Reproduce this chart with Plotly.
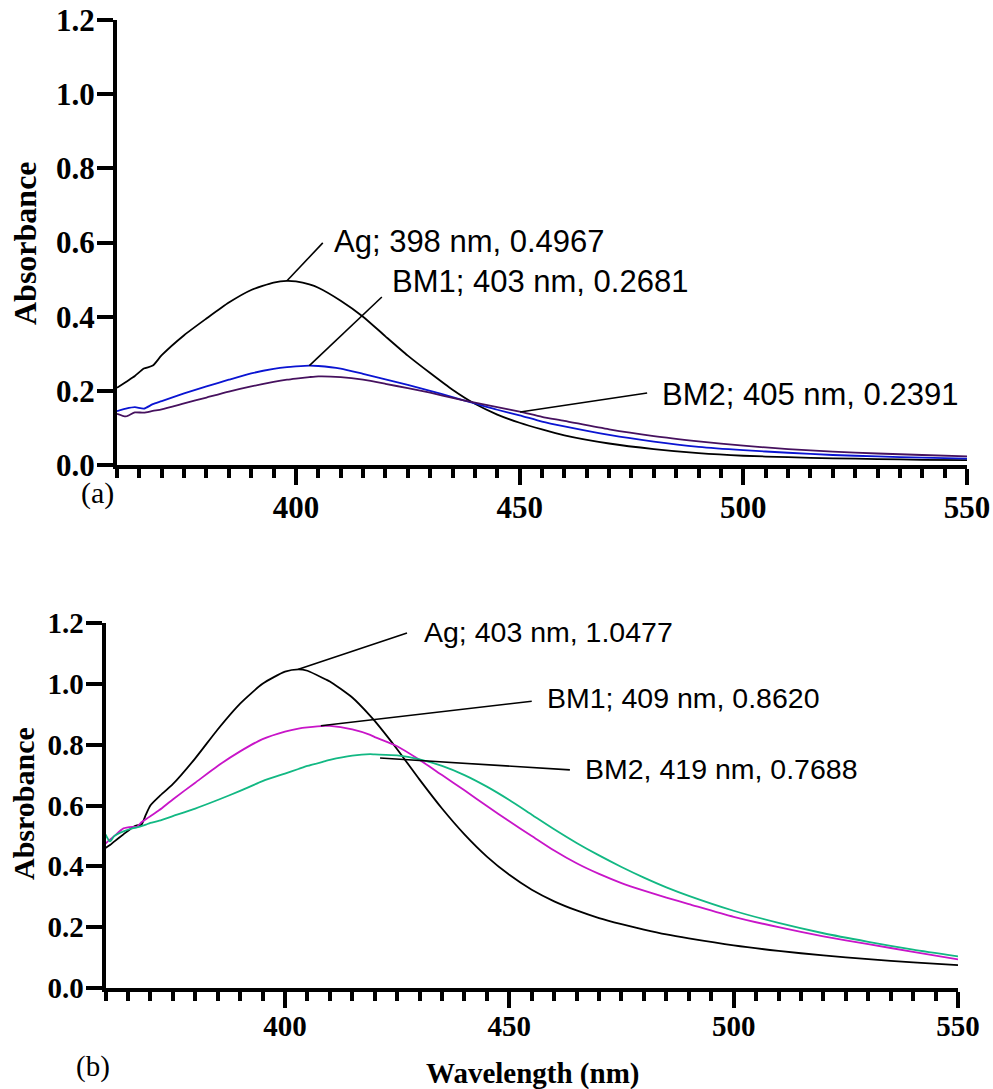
import plotly.graph_objects as go

# ---------------- data ----------------
# Panel (a)
wl_a = [360, 362, 364, 366, 368, 370, 375, 380, 385, 390, 395, 398, 400, 403, 405,
        410, 415, 420, 425, 430, 435, 440, 445, 450, 455, 460, 470, 480, 490, 500,
        510, 520, 530, 540, 550]
ag_a = [0.208, 0.224, 0.240, 0.260, 0.268, 0.296, 0.350, 0.395, 0.438, 0.472, 0.492,
        0.4967, 0.495, 0.487, 0.478, 0.443, 0.400, 0.347, 0.295, 0.248, 0.203, 0.165,
        0.136, 0.114, 0.096, 0.080, 0.058, 0.043, 0.032, 0.025, 0.021, 0.018, 0.016,
        0.014, 0.013]
bm1_a = [0.145, 0.152, 0.156, 0.152, 0.164, 0.172, 0.193, 0.212, 0.230, 0.247, 0.259,
         0.264, 0.266, 0.2681, 0.267, 0.260, 0.246, 0.231, 0.216, 0.200, 0.183, 0.166,
         0.149, 0.134, 0.117, 0.104, 0.081, 0.063, 0.049, 0.040, 0.033, 0.027, 0.023,
         0.020, 0.017]
bm2_a = [0.138, 0.131, 0.142, 0.141, 0.146, 0.150, 0.166, 0.182, 0.198, 0.212, 0.224,
         0.230, 0.233, 0.237, 0.2391, 0.237, 0.230, 0.219, 0.207, 0.195, 0.181, 0.168,
         0.156, 0.144, 0.130, 0.119, 0.096, 0.078, 0.064, 0.052, 0.043, 0.036, 0.031,
         0.027, 0.023]

# Panel (b)
wl_b = [360, 361, 362, 364, 366, 367, 368, 369, 370, 372, 375, 380, 385, 390, 395,
        400, 403, 405, 409, 410, 415, 419, 420, 425, 430, 435, 440, 445, 450, 455,
        460, 465, 470, 475, 480, 485, 490, 500, 510, 520, 530, 540, 550]
ag_b = [0.460, 0.470, 0.482, 0.505, 0.528, 0.535, 0.537, 0.570, 0.600, 0.630, 0.670,
        0.755, 0.850, 0.935, 1.000, 1.040, 1.0477, 1.043, 1.015, 1.008, 0.955, 0.895,
        0.878, 0.785, 0.685, 0.590, 0.505, 0.432, 0.372, 0.323, 0.285, 0.255, 0.230,
        0.210, 0.192, 0.176, 0.163, 0.140, 0.122, 0.107, 0.095, 0.084, 0.075]
bm1_b = [0.475, 0.488, 0.500, 0.525, 0.530, 0.530, 0.545, 0.555, 0.565, 0.585, 0.620,
         0.675, 0.730, 0.778, 0.818, 0.843, 0.853, 0.857, 0.8620, 0.862, 0.850, 0.832,
         0.825, 0.795, 0.750, 0.700, 0.650, 0.598, 0.548, 0.500, 0.452, 0.410, 0.375,
         0.345, 0.320, 0.297, 0.276, 0.234, 0.200, 0.170, 0.144, 0.119, 0.094]
bm2_b = [0.505, 0.482, 0.500, 0.515, 0.525, 0.528, 0.532, 0.537, 0.543, 0.550, 0.565,
         0.590, 0.618, 0.648, 0.680, 0.705, 0.720, 0.730, 0.746, 0.750, 0.764, 0.7688,
         0.768, 0.765, 0.752, 0.730, 0.700, 0.662, 0.618, 0.570, 0.522, 0.477, 0.436,
         0.398, 0.363, 0.331, 0.303, 0.254, 0.214, 0.180, 0.152, 0.126, 0.104]

x_ticks = [400, 450, 500, 550]
y_ticks = [0.0, 0.2, 0.4, 0.6, 0.8, 1.0, 1.2]

labels_a = ["Ag; 398 nm, 0.4967", "BM1; 403 nm, 0.2681", "BM2; 405 nm, 0.2391"]
labels_b = ["Ag; 403 nm, 1.0477", "BM1; 409 nm, 0.8620", "BM2, 419 nm, 0.7688"]

# ---------------- figure ----------------
W, H = 993, 1089
SERIF = "Liberation Serif, Times New Roman, serif"
SANS = "Liberation Sans, Arial, sans-serif"

def px(x):
    return x / W

def py(y):
    return 1 - y / H

fig = go.Figure()

col_a = ["black", "#0A14D2", "#46115E"]
col_b = ["black", "#C815C8", "#12B883"]

for ys, c in zip([ag_a, bm1_a, bm2_a], col_a):
    fig.add_trace(go.Scatter(x=wl_a, y=ys, mode="lines", xaxis="x", yaxis="y",
                             line=dict(color=c, width=1.8, shape="spline", smoothing=0.6),
                             showlegend=False))
for ys, c in zip([ag_b, bm1_b, bm2_b], col_b):
    fig.add_trace(go.Scatter(x=wl_b, y=ys, mode="lines", xaxis="x2", yaxis="y2",
                             line=dict(color=c, width=1.8, shape="spline", smoothing=0.6),
                             showlegend=False))

def xax(domain, anchor, size, standoff):
    return dict(domain=domain, anchor=anchor, range=[360, 550], tickvals=x_ticks,
                showline=True, linewidth=4, linecolor="black", mirror=False,
                ticks="outside", ticklen=16, tickwidth=4, tickcolor="black",
                showgrid=False, zeroline=False, ticklabelstandoff=standoff,
                automargin=False, ticklabeloverflow="allow",
                tickfont=dict(family=SERIF, size=size, color="black", weight="bold"),
                minor=dict(dtick=5, tick0=0, ticks="outside", ticklen=9, tickwidth=4,
                           tickcolor="black", showgrid=False))

def yax(domain, anchor, size):
    return dict(domain=domain, anchor=anchor, range=[0, 1.2], tickvals=y_ticks,
                tickformat=".1f", showline=True, linewidth=4, linecolor="black",
                ticks="outside", ticklen=16, tickwidth=4, tickcolor="black",
                showgrid=False, zeroline=False, ticklabelstandoff=-4,
                automargin=False, ticklabeloverflow="allow",
                tickfont=dict(family=SERIF, size=size, color="black", weight="bold"))

fig.update_layout(
    width=W, height=H,
    margin=dict(l=0, r=0, t=0, b=0, autoexpand=False),
    paper_bgcolor="white", plot_bgcolor="white",
    xaxis=xax([px(117), px(967)], "y", 31, -4),
    yaxis=yax([py(465), py(20)], "x", 31),
    xaxis2=xax([px(105.5), px(958)], "y2", 29, -7),
    yaxis2=yax([py(988), py(623)], "x2", 29),
)

# leader lines: (tail, tip) in data coords
lead_a = [((406.0, 0.599), (398, 0.4967)),
          ((419.2, 0.453), (403, 0.2681)),
          ((478.5, 0.194), (450.1, 0.143))]
text_a = [(408.1, 0.604), (421.0, 0.496), (481.4, 0.189)]
lead_b = [((427.2, 1.167), (403, 1.0477)),
          ((455.0, 0.943), (408, 0.862)),
          ((463.5, 0.717), (421.2, 0.756))]
text_b = [(430.5, 1.170), (457.9, 0.953), (466.4, 0.720)]

shapes = []
anns = []
for (t, p), (tx, ty), lab in zip(lead_a, text_a, labels_a):
    shapes.append(dict(type="line", xref="x", yref="y", x0=t[0], y0=t[1], x1=p[0], y1=p[1],
                       line=dict(color="black", width=1.6)))
    anns.append(dict(xref="x", yref="y", x=tx, y=ty, text=lab, showarrow=False,
                     xanchor="left", yanchor="middle",
                     font=dict(family=SANS, size=31, color="black")))
for (t, p), (tx, ty), lab in zip(lead_b, text_b, labels_b):
    shapes.append(dict(type="line", xref="x2", yref="y2", x0=t[0], y0=t[1], x1=p[0], y1=p[1],
                       line=dict(color="black", width=1.6)))
    anns.append(dict(xref="x2", yref="y2", x=tx, y=ty, text=lab, showarrow=False,
                     xanchor="left", yanchor="middle",
                     font=dict(family=SANS, size=28.5, color="black")))

# axis titles and panel labels
anns.append(dict(xref="paper", yref="paper", x=px(25), y=py(243), text="Absorbance",
                 textangle=-90, showarrow=False, xanchor="center", yanchor="middle",
                 font=dict(family=SERIF, size=32, color="black", weight="bold")))
anns.append(dict(xref="paper", yref="paper", x=px(23), y=py(804), text="Absrobance",
                 textangle=-90, showarrow=False, xanchor="center", yanchor="middle",
                 font=dict(family=SERIF, size=30, color="black", weight="bold")))
anns.append(dict(xref="paper", yref="paper", x=px(532), y=py(1073), text="Wavelength (nm)",
                 showarrow=False, xanchor="center", yanchor="middle",
                 font=dict(family=SERIF, size=29, color="black", weight="bold")))
anns.append(dict(xref="paper", yref="paper", x=px(79), y=py(493), text="(a)",
                 showarrow=False, xanchor="left", yanchor="middle",
                 font=dict(family=SERIF, size=30, color="black")))
anns.append(dict(xref="paper", yref="paper", x=px(74), y=py(1066), text="(b)",
                 showarrow=False, xanchor="left", yanchor="middle",
                 font=dict(family=SERIF, size=29, color="black")))

fig.update_layout(shapes=shapes, annotations=anns)
# remove the default 8 px page margin so the 993x1089 figure fills the window exactly
fig.write_html("out.html",
               config={"displayModeBar": False, "staticPlot": True},
               post_script="document.body.style.margin='0';"
                           "document.body.style.overflow='hidden';"
                           "document.documentElement.style.overflow='hidden';")
